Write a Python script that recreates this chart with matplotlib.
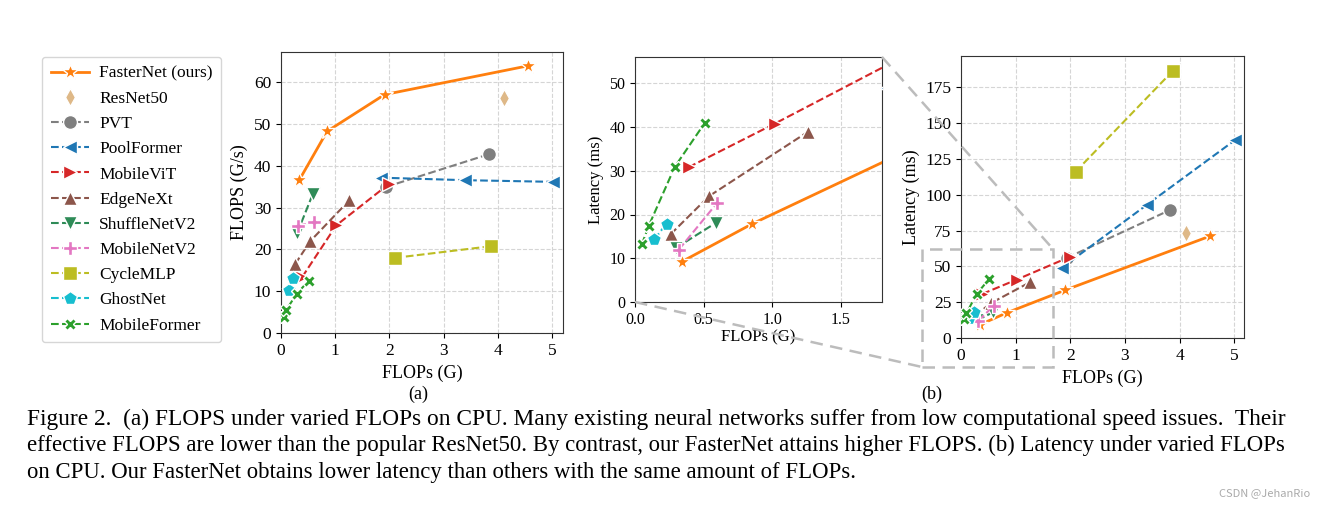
import matplotlib
matplotlib.use("Agg")
import matplotlib.pyplot as plt
from matplotlib.patches import Rectangle
from matplotlib.lines import Line2D

plt.rcParams['font.family'] = ['Liberation Serif', 'DejaVu Serif']
plt.rcParams['mathtext.fontset'] = 'stix'

# data: FLOPs (G), throughput FLOPS (G/s), latency (ms)
names = ["FasterNet (ours)", "ResNet50", "PVT", "PoolFormer", "MobileViT", "EdgeNeXt",
         "ShuffleNetV2", "MobileNetV2", "CycleMLP", "GhostNet", "MobileFormer"]

fasternet_flops = [0.34, 0.85, 1.91, 4.56]
fasternet_speed = [36.7, 48.3, 57.1, 64.0]
fasternet_lat = [9.2, 17.8, 33.5, 71.2]

resnet_flops = [4.11]
resnet_speed = [56.4]
resnet_lat = [73.3]

pvt_flops = [1.94, 3.83]
pvt_speed = [35.0, 42.8]
pvt_lat = [56.0, 89.5]

poolformer_flops = [1.84, 3.40, 5.02]
poolformer_speed = [37.2, 36.6, 36.2]
poolformer_lat = [48.9, 93.0, 138.4]

mobilevit_flops = [0.39, 1.02, 2.0]
mobilevit_speed = [13.4, 25.8, 35.8]
mobilevit_lat = [30.8, 40.8, 56.8]

edgenext_flops = [0.26, 0.54, 1.26]
edgenext_speed = [16.5, 22.0, 31.8]
edgenext_lat = [15.5, 24.2, 38.9]

shufflenet_flops = [0.30, 0.59]
shufflenet_speed = [24.0, 33.4]
shufflenet_lat = [12.4, 18.1]

mobilenet_flops = [0.32, 0.60]
mobilenet_speed = [25.7, 26.5]
mobilenet_lat = [12.0, 22.7]

cyclemlp_flops = [2.10, 3.88]
cyclemlp_speed = [18.0, 20.8]
cyclemlp_lat = [116.3, 186.7]

ghostnet_flops = [0.14, 0.23]
ghostnet_speed = [10.4, 13.2]
ghostnet_lat = [14.3, 17.9]

mobileformer_flops = [0.05, 0.10, 0.29, 0.51]
mobileformer_speed = [3.8, 5.6, 9.4, 12.5]
mobileformer_lat = [13.2, 17.4, 30.9, 41.0]

flops = [fasternet_flops, resnet_flops, pvt_flops, poolformer_flops, mobilevit_flops,
         edgenext_flops, shufflenet_flops, mobilenet_flops, cyclemlp_flops,
         ghostnet_flops, mobileformer_flops]
speeds = [fasternet_speed, resnet_speed, pvt_speed, poolformer_speed, mobilevit_speed,
          edgenext_speed, shufflenet_speed, mobilenet_speed, cyclemlp_speed,
          ghostnet_speed, mobileformer_speed]
lats = [fasternet_lat, resnet_lat, pvt_lat, poolformer_lat, mobilevit_lat,
        edgenext_lat, shufflenet_lat, mobilenet_lat, cyclemlp_lat,
        ghostnet_lat, mobileformer_lat]

colors = ["tab:orange", "#deb887", "tab:gray", "tab:blue", "tab:red", "tab:brown",
          "seagreen", "tab:pink", "tab:olive", "tab:cyan", "tab:green"]
markers = ["*", "d", "o", "<", ">", "^", "v", "P", "s", "p", "X"]
msizes = [12, 9, 10, 10, 10, 10, 10, 10, 10, 10, 9]

W, H = 1318, 508
fig = plt.figure(figsize=(W / 100, H / 100), dpi=100)


def px_axes(l, t, r, b):
    return fig.add_axes([l / W, 1 - b / H, (r - l) / W, (b - t) / H])


def draw(ax, ys):
    handles = []
    for i in range(len(names)):
        ls = '-' if i == 0 else ('none' if i == 1 else '--')
        lw = 2 if i == 0 else 1.5
        h, = ax.plot(flops[i], ys[i], linestyle=ls, lw=lw, color=colors[i],
                     marker=markers[i], ms=msizes[i], mec='white', mew=1.0,
                     label=names[i], zorder=3)
        handles.append(h)
    ax.grid(True, ls='--', color='#d5d5d5', lw=0.8)
    ax.set_axisbelow(True)
    for s in ax.spines.values():
        s.set_color('#333333')
    ax.tick_params(labelsize=12.5, length=3.5)
    return handles


# (a) FLOPS vs FLOPs
ax_a = px_axes(281, 52, 563, 333)
handles = draw(ax_a, speeds)
ax_a.set_xlim(0, 5.2)
ax_a.set_ylim(0, 67.3)
ax_a.set_xticks(range(6))
ax_a.set_yticks(range(0, 61, 10))
ax_a.set_xlabel("FLOPs (G)", fontsize=13)
ax_a.set_ylabel("FLOPS (G/s)", fontsize=13)

# (b) zoomed inset of latency
ax_i = px_axes(635, 57, 882, 302)
draw(ax_i, lats)
ax_i.set_xlim(0, 1.8)
ax_i.set_ylim(0, 56)
ax_i.set_xticks([0, 0.5, 1.0, 1.5])
ax_i.set_yticks(range(0, 51, 10))
ax_i.tick_params(labelsize=11.5)
ax_i.set_xlabel("FLOPs (G)", fontsize=12, labelpad=1)
ax_i.set_ylabel("Latency (ms)", fontsize=12)

# (b) full latency
ax_b = px_axes(961, 56, 1244, 338)
draw(ax_b, lats)
ax_b.set_xlim(0, 5.18)
ax_b.set_ylim(0, 197)
ax_b.set_xticks(range(6))
ax_b.set_yticks(range(0, 176, 25))
ax_b.set_xlabel("FLOPs (G)", fontsize=13)
ax_b.set_ylabel("Latency (ms)", fontsize=13)

# zoom box and connectors in figure pixels
gray = '#bcbcbc'
fig.patches.append(Rectangle((922 / W, 1 - 367 / H), 131 / W, 118 / H, fill=False,
                             ec=gray, lw=1.8, ls=(0, (5, 3)), transform=fig.transFigure,
                             zorder=5))
fig.lines.append(Line2D([882 / W, 1053 / W], [1 - 57 / H, 1 - 249 / H], color=gray,
                        lw=1.8, ls=(0, (5, 3)), transform=fig.transFigure, zorder=5))
fig.lines.append(Line2D([635 / W, 922 / W], [1 - 302 / H, 1 - 367 / H], color=gray,
                        lw=1.8, ls=(0, (5, 3)), transform=fig.transFigure, zorder=5))

fig.legend(handles=handles, loc='upper left', bbox_to_anchor=(42 / W, 1 - 57 / H),
           fontsize=12.5, frameon=True, edgecolor='#cccccc', handlelength=2.2,
           handletextpad=0.6, labelspacing=0.52, borderpad=0.5, borderaxespad=0)

fig.text(418 / W, 1 - 394 / H, "(a)", ha='center', va='center', fontsize=13)
fig.text(932 / W, 1 - 394 / H, "(b)", ha='center', va='center', fontsize=13)

caption = [
    "Figure 2.  (a) FLOPS under varied FLOPs on CPU. Many existing neural networks suffer from low computational speed issues.  Their",
    "effective FLOPS are lower than the popular ResNet50. By contrast, our FasterNet attains higher FLOPS. (b) Latency under varied FLOPs",
    "on CPU. Our FasterNet obtains lower latency than others with the same amount of FLOPs.",
]
baselines = [425, 451.5, 478]
renderer = fig.canvas.get_renderer()
size = 14
for k, line in enumerate(caption):
    t = fig.text(27 / W, 1 - baselines[k] / H, line, ha='left', va='baseline', fontsize=14)
    if k < 2:
        # the first two lines are justified to the full width in the reference
        w = t.get_window_extent(renderer=renderer).width
        size = 14 * (1290 - 27) / w
    t.set_fontsize(size)

fig.text(1310 / W, 1 - 493 / H, "CSDN @JehanRio", ha='right', va='center', fontsize=8,
         color='#aaaaaa', family=['Noto Sans CJK SC', 'DejaVu Sans'])

fig.savefig("out.png", dpi=100)
